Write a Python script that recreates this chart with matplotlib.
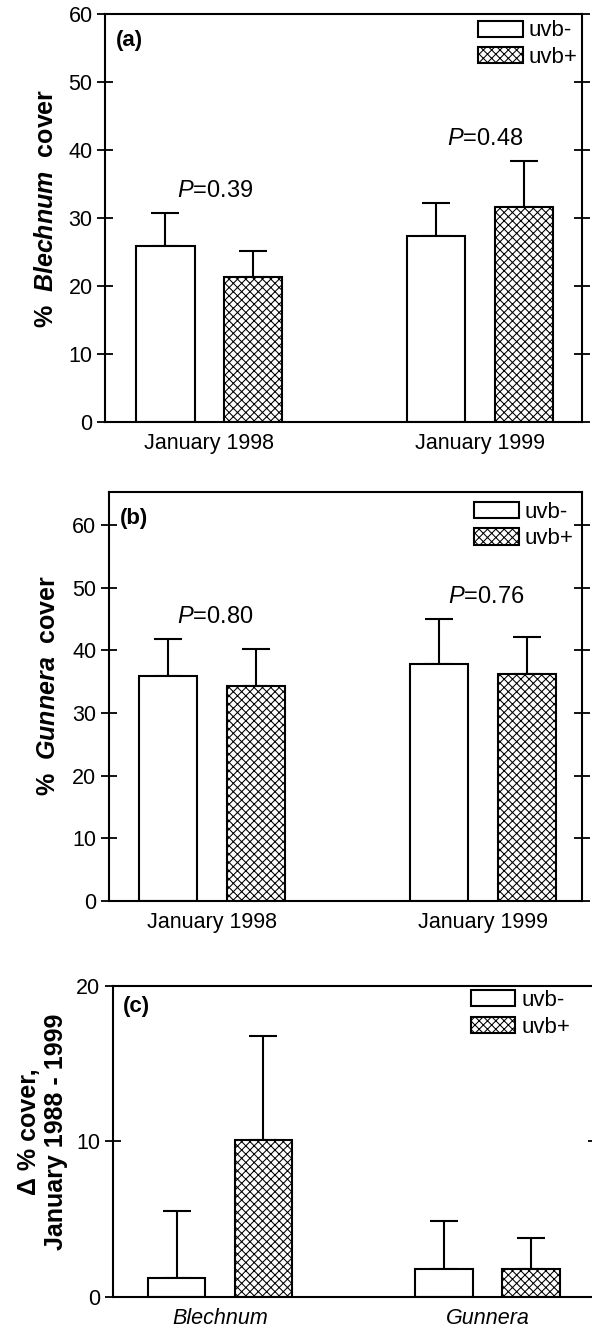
import matplotlib
matplotlib.use('Agg')
import matplotlib.pyplot as plt
import numpy as np
from matplotlib.patches import Patch

plt.rcParams['font.family'] = 'Liberation Sans'
plt.rcParams['mathtext.fontset'] = 'custom'
plt.rcParams['mathtext.rm'] = 'Liberation Sans'
plt.rcParams['mathtext.it'] = 'Liberation Sans:italic'
plt.rcParams['mathtext.bf'] = 'Liberation Sans:bold'
plt.rcParams['mathtext.bfit'] = 'Liberation Sans:italic:bold'
plt.rcParams['hatch.linewidth'] = 0.75

##data##
dates = ['January 1998', 'January 1999']
species = ['Blechnum', 'Gunnera']

#(a) % Blechnum cover
blech_minus = [25.9, 27.4]
blech_minus_err = [4.9, 4.9]
blech_plus = [21.4, 31.7]
blech_plus_err = [3.7, 6.7]
blech_p = ['0.39', '0.48']
blech_p_y = [34.0, 41.7]

#(b) % Gunnera cover
gunn_minus = [35.9, 37.8]
gunn_minus_err = [6.0, 7.3]
gunn_plus = [34.4, 36.3]
gunn_plus_err = [5.9, 5.9]
gunn_p = ['0.80', '0.76']
gunn_p_y = [45.4, 48.6]

#(c) change in cover 1998-1999
delta_minus = [1.2, 1.8]
delta_minus_err = [4.3, 3.1]
delta_plus = [10.1, 1.8]
delta_plus_err = [6.7, 1.95]

fig = plt.figure(figsize=(5.92, 13.29), dpi=100)

off = 0.162
width = 0.215
lw = 1.5


def draw_panel(ax, minus, minus_err, plus, plus_err, ticklabels, tag):
    x = np.arange(len(minus))
    ax.bar(x - off, minus, width, color='white', edgecolor='black', lw=lw, zorder=2)
    ax.bar(x + off, plus, width, color='white', edgecolor='black', lw=lw,
           hatch='xxxx', zorder=2)
    ax.errorbar(x - off, minus, yerr=[np.zeros(len(minus)), minus_err], fmt='none',
                ecolor='black', elinewidth=lw, capsize=10, capthick=lw, zorder=1)
    ax.errorbar(x + off, plus, yerr=[np.zeros(len(plus)), plus_err], fmt='none',
                ecolor='black', elinewidth=lw, capsize=10, capthick=lw, zorder=1)
    ax.set_xticks(x)
    ax.set_xticklabels(ticklabels)
    ax.tick_params(axis='x', length=0, pad=8, labelsize=15.5)
    ax.tick_params(axis='y', direction='inout', length=12, width=1.3, right=True,
                   labelsize=15.5, pad=3)
    for s in ax.spines.values():
        s.set_linewidth(lw)
    ax.text(0.022, 0.935, tag, transform=ax.transAxes, fontsize=16,
            fontweight='bold', va='center', ha='left')


def add_legend(ax, anchor):
    handles = [Patch(facecolor='white', edgecolor='black', lw=lw, label='uvb-'),
               Patch(facecolor='white', edgecolor='black', lw=lw, hatch='xxxx', label='uvb+')]
    ax.legend(handles=handles, loc='upper right', bbox_to_anchor=anchor, frameon=False,
              fontsize=16, handlelength=2.0, handleheight=0.75, handletextpad=0.25,
              labelspacing=0.25, borderpad=0, borderaxespad=0)


##(a)##
ax1 = fig.add_axes([0.1774, 0.6825, 0.8057, 0.3067])
draw_panel(ax1, blech_minus, blech_minus_err, blech_plus, blech_plus_err, dates, '(a)')
ax1.set_xlim(-0.385, 1.376)
ax1.set_ylim(0, 60)
ax1.set_yticks([0, 10, 20, 30, 40, 50, 60])
for i in range(2):
    ax1.text(i + 0.02, blech_p_y[i], r'$\it{P}$=' + blech_p[i], fontsize=17,
             ha='center', va='center')
ax1.set_ylabel(r'%  $\mathbfit{Blechnum}$  cover', fontsize=18, fontweight='bold')
ax1.yaxis.set_label_coords(-0.0985, 0.525)
add_legend(ax1, (0.99, 0.985))

##(b)##
ax2 = fig.add_axes([0.1841, 0.3220, 0.799, 0.3078])
draw_panel(ax2, gunn_minus, gunn_minus_err, gunn_plus, gunn_plus_err, dates, '(b)')
ax2.set_xlim(-0.381, 1.365)
ax2.set_ylim(0, 65.3)
ax2.set_yticks([0, 10, 20, 30, 40, 50, 60])
for i in range(2):
    ax2.text(i + 0.01, gunn_p_y[i], r'$\it{P}$=' + gunn_p[i], fontsize=17,
             ha='center', va='center')
ax2.set_ylabel(r'%  $\mathbfit{Gunnera}$  cover', fontsize=18, fontweight='bold')
ax2.yaxis.set_label_coords(-0.1036, 0.528)
add_legend(ax2, (0.981, 0.976))

##(c)##
ax3 = fig.add_axes([0.1904, 0.0243, 0.8164, 0.2338])
draw_panel(ax3, delta_minus, delta_minus_err, delta_plus, delta_plus_err, species, '(c)')
for lab in ax3.get_xticklabels():
    lab.set_fontstyle('italic')
ax3.set_xlim(-0.401, 1.406)
ax3.set_ylim(0, 20)
ax3.set_yticks([0, 10, 20])
ax3.set_ylabel('\u0394 % cover,\nJanuary 1988 - 1999', fontsize=18, fontweight='bold',
               linespacing=1.15)
ax3.yaxis.set_label_coords(-0.093, 0.53)
add_legend(ax3, (0.946, 0.987))

fig.savefig('out.png', dpi=100)
